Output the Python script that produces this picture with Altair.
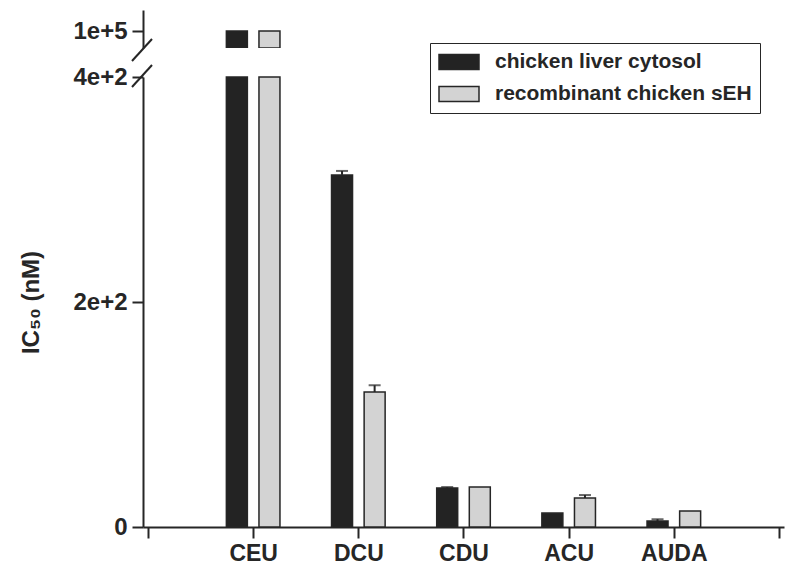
import altair as alt
import pandas as pd

categories = ["CEU", "DCU", "CDU", "ACU", "AUDA"]
series_names = ["chicken liver cytosol", "recombinant chicken sEH"]
liver = [100000, 313, 34.7, 12.4, 5.3]
liver_err = [0, 3.5, 0.8, 0, 1.7]
recomb = [100000, 120, 35.6, 25.8, 14.2]
recomb_err = [0, 6, 0, 2.6, 0]
colors = ["#232323", "#d3d3d3"]

rows = []
for i, c in enumerate(categories):
    rows.append({"cat": c, "idx": i + 1, "series": series_names[0], "side": -1,
                 "value": liver[i], "err": liver_err[i]})
    rows.append({"cat": c, "idx": i + 1, "series": series_names[1], "side": 1,
                 "value": recomb[i], "err": recomb_err[i]})
df = pd.DataFrame(rows)

FONT = "Liberation Sans"
INK = "#262626"
label_expr = "[" + ",".join(["''"] + [f"'{c}'" for c in categories] + ["''"]) + "][datum.value]"

xscale = alt.Scale(domain=[0, 6], nice=False, zero=False)
cscale = alt.Scale(domain=series_names, range=colors)

base = alt.Chart(df).transform_calculate(
    pos="datum.idx + datum.side * 0.155",
    hi="datum.value + datum.err",
    yc="min(datum.value, 400)",
)

# lower panel
ylow = alt.Scale(domain=[0, 400], nice=False)
bars_low = base.mark_bar(size=21, stroke=INK, strokeWidth=1.5).encode(
    x=alt.X("pos:Q", scale=xscale,
            axis=alt.Axis(values=[0, 1, 2, 3, 4, 5, 6], labelExpr=label_expr, title=None,
                          grid=False, tickSize=11, labelPadding=4, labelFontSize=23)),
    y=alt.Y("yc:Q", scale=ylow,
            axis=alt.Axis(values=[0, 200, 400], grid=False, tickSize=11, labelPadding=5,
                          labelExpr="datum.value == 0 ? '0' : datum.value == 200 ? '2e+2' : '4e+2'",
                          title="IC₅₀ (nM)", titleFontSize=24, titleFont=FONT,
                          titleFontWeight="bold", titleColor=INK, titleX=-112, titleY=225,
                          titleAngle=270, titleAlign="center", titleBaseline="middle")),
    color=alt.Color("series:N", scale=cscale, sort=series_names,
                    legend=alt.Legend(orient="none", legendX=287, legendY=-34, title=None,
                                      strokeColor=INK, fillColor="white", padding=8,
                                      symbolType="M-1,-0.75L3,-0.75L3,0.75L-1,0.75Z",
                                      symbolSize=400, symbolStrokeColor=INK,
                                      symbolStrokeWidth=1.5, symbolOpacity=1,
                                      labelFont=FONT, labelFontSize=21, labelFontWeight="bold",
                                      labelColor=INK, labelOffset=35, rowPadding=10,
                                      labelLimit=500, cornerRadius=0)),
)
err_df = base.transform_filter("datum.err > 0")
err_rule = err_df.mark_rule(color=INK, strokeWidth=2).encode(
    x=alt.X("pos:Q", scale=xscale), y=alt.Y("value:Q", scale=ylow), y2="hi:Q")
err_cap = err_df.mark_tick(color=INK, orient="horizontal", size=12, thickness=2).encode(
    x=alt.X("pos:Q", scale=xscale), y=alt.Y("hi:Q", scale=ylow))

brk = pd.DataFrame({"k": [1]})
slash1 = alt.Chart(brk).mark_rule(color=INK, strokeWidth=2).encode(
    x=alt.value(-11), x2=alt.value(9), y=alt.value(-16), y2=alt.value(-38))
slash2 = alt.Chart(brk).mark_rule(color=INK, strokeWidth=2).encode(
    x=alt.value(-11), x2=alt.value(9), y=alt.value(10), y2=alt.value(-12))

lower = alt.layer(bars_low, err_rule, err_cap, slash1, slash2).properties(width=641, height=450)

# upper panel
yup = alt.Scale(domain=[100000 - 1700, 100000 + 2100], nice=False, zero=False)
bars_up = base.transform_filter("datum.value > 400").mark_bar(
    size=21, stroke=INK, strokeWidth=1.5, clip=True).encode(
    x=alt.X("pos:Q", scale=xscale, axis=None),
    y=alt.Y("value:Q", scale=yup,
            axis=alt.Axis(values=[100000], labelExpr="'1e+5'", grid=False, tickSize=11,
                          labelPadding=5, title=None)),
    y2=alt.Y2(datum=100000 - 1700),
    color=alt.Color("series:N", scale=cscale, legend=None),
)
upper = bars_up.properties(width=641, height=38)

chart = alt.vconcat(upper, lower, spacing=29, bounds="flush").resolve_scale(
    color="independent").properties(
    padding={"left": 11, "top": 2, "right": 5, "bottom": 5}
).configure_view(stroke=None).configure_axis(
    domainColor=INK, domainWidth=2, tickColor=INK, tickWidth=2,
    labelFont=FONT, labelFontWeight="bold", labelFontSize=24, labelColor=INK,
)

chart.save("out.html", embed_options={"renderer": "svg", "actions": False})
